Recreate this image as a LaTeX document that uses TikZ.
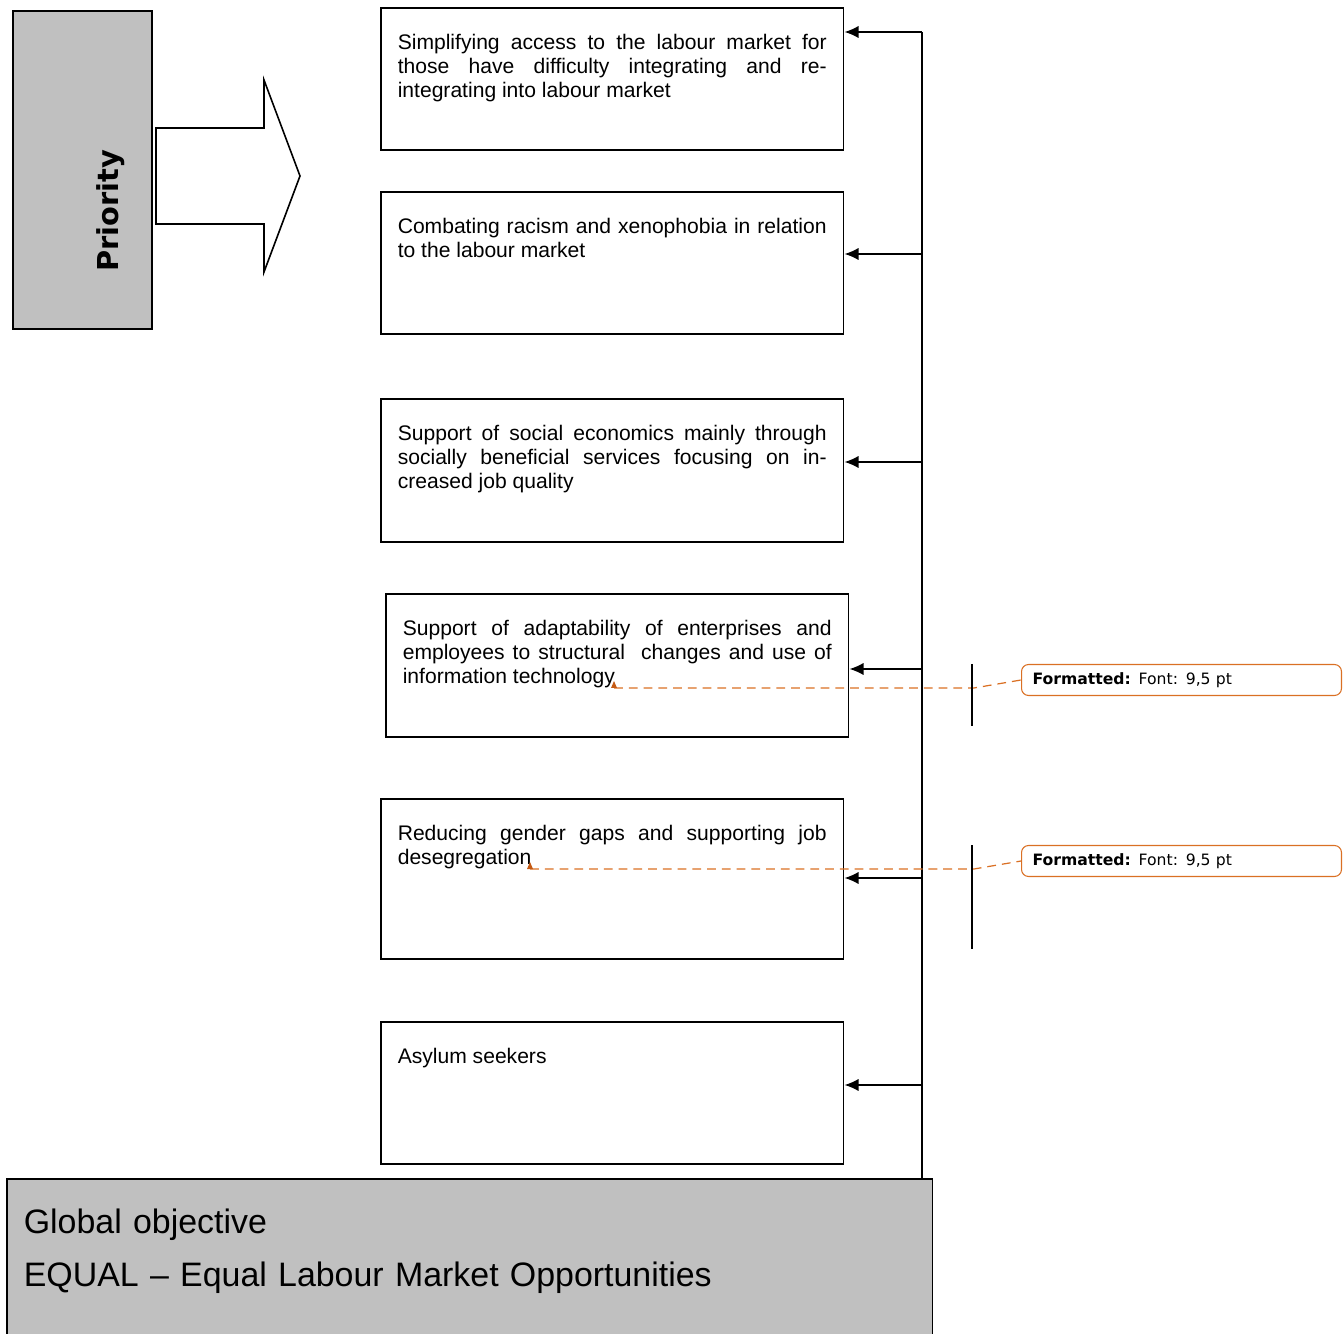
\documentclass[tikz,border=0pt]{standalone}
\usepackage{fontspec}
\setmainfont{Liberation Sans}
\newfontfamily\notefont{DejaVu Sans}
\usetikzlibrary{arrows.meta,positioning,calc}
\definecolor{panelgray}{RGB}{192,192,192}
\definecolor{fmtorange}{RGB}{218,112,36}
\definecolor{markorange}{RGB}{196,90,20}

\begin{document}
\begin{tikzpicture}[x=0.02cm, y=-0.02cm, line width=0.9pt,
  aim/.style={draw, anchor=north west, minimum width=9.26cm, text width=8.58cm, align=justify,
    inner xsep=0.34cm, inner ysep=0pt, text height=0.84cm, text depth=2cm,
    font=\fontsize{12}{13.6}\selectfont},
  panel/.style={draw, fill=panelgray, anchor=north west},
  fmtnote/.style={draw=fmtorange, line width=0.6pt, rounded corners=4pt, fill=white, anchor=west,
    minimum height=0.62cm, text width=5.96cm, inner xsep=0.22cm, align=left,
    font=\notefont\fontsize{8.9}{11}\selectfont},
  fmtline/.style={draw=fmtorange, line width=0.7pt, dash pattern=on 5pt off 3.4pt},
  feed/.style={-{Latex[length=8pt,width=7pt]}}]
\useasboundingbox (0,0) rectangle (1343,1334);

%Priority
\node[panel, minimum width=2.78cm, minimum height=6.36cm] (prio) at (12,10) {};
\node[rotate=90, anchor=base, font=\notefont\bfseries\fontsize{16.4}{18}\selectfont] (priolabel) at (118,211) {Priority};
\draw (156,128) -- (264,128) -- (264,80) -- (300,176) -- (264,272) -- (264,224) -- (156,224) -- cycle;

%Measures
\node[aim] (b1) at (380,7) {Simplifying access to the labour market for\linebreak those have difficulty integrating and re-\linebreak integrating into labour market};
\node[aim] (b2) at (380,191) {Combating racism and xenophobia in relation\linebreak to the labour market};
\node[aim, text depth=2.02cm] (b3) at (380,398) {Support of social economics mainly through\linebreak socially beneficial services focusing on in-\linebreak creased job quality};
\node[aim, text depth=2.02cm] (b4) at (385,593) {Support of adaptability of enterprises and\linebreak employees to structural\ \ changes and use of\linebreak information technology};
\node[aim, text depth=2.36cm] (b5) at (380,798) {Reducing gender gaps and supporting job\linebreak desegregation};
\node[aim] (b6) at (380,1021) {Asylum seekers};

%Global objective
\node[panel, minimum width=18.52cm, text width=17.84cm, align=left, inner xsep=0.34cm, inner ysep=0pt,
  text height=1.1cm, text depth=2.2cm, font=\fontsize{19.3}{30}\selectfont] (goal) at (6,1178)
  {Global objective\\EQUAL – Equal Labour Market Opportunities};

%Spine
\coordinate (s1) at (922,32);
\coordinate (s2) at (922,254);
\coordinate (s3) at (922,462);
\coordinate (s4) at (922,669);
\coordinate (s5) at (922,878);
\coordinate (s6) at (922,1085);
\draw (s1) -- (s1 |- goal.north);
\foreach \i in {1,...,6}
  \draw[feed] (s\i) -- (s\i -| b\i.east);

%Comments
\node[fmtnote] (n1) at (1021,680) {\textbf{Formatted:} Font: 9,5 pt};
\node[fmtnote] (n2) at (1021,861) {\textbf{Formatted:} Font: 9,5 pt};
\coordinate (m1) at (614,688);
\coordinate (m2) at (530,869);
\coordinate (k1) at (974,688);
\coordinate (k2) at (974,869);
\draw[fmtline] (m1) -- (k1) -- (n1.west);
\draw[fmtline] (m2) -- (k2) -- (n2.west);
\fill[markorange] ($(m1)+(-3,0)$) -- ($(m1)+(3,0)$) -- ($(m1)+(0,-7)$) -- cycle;
\fill[markorange] ($(m2)+(-3,0)$) -- ($(m2)+(3,0)$) -- ($(m2)+(0,-7)$) -- cycle;
\draw (972,664) -- (972,726);
\draw (972,845) -- (972,949);
\end{tikzpicture}
\end{document}
